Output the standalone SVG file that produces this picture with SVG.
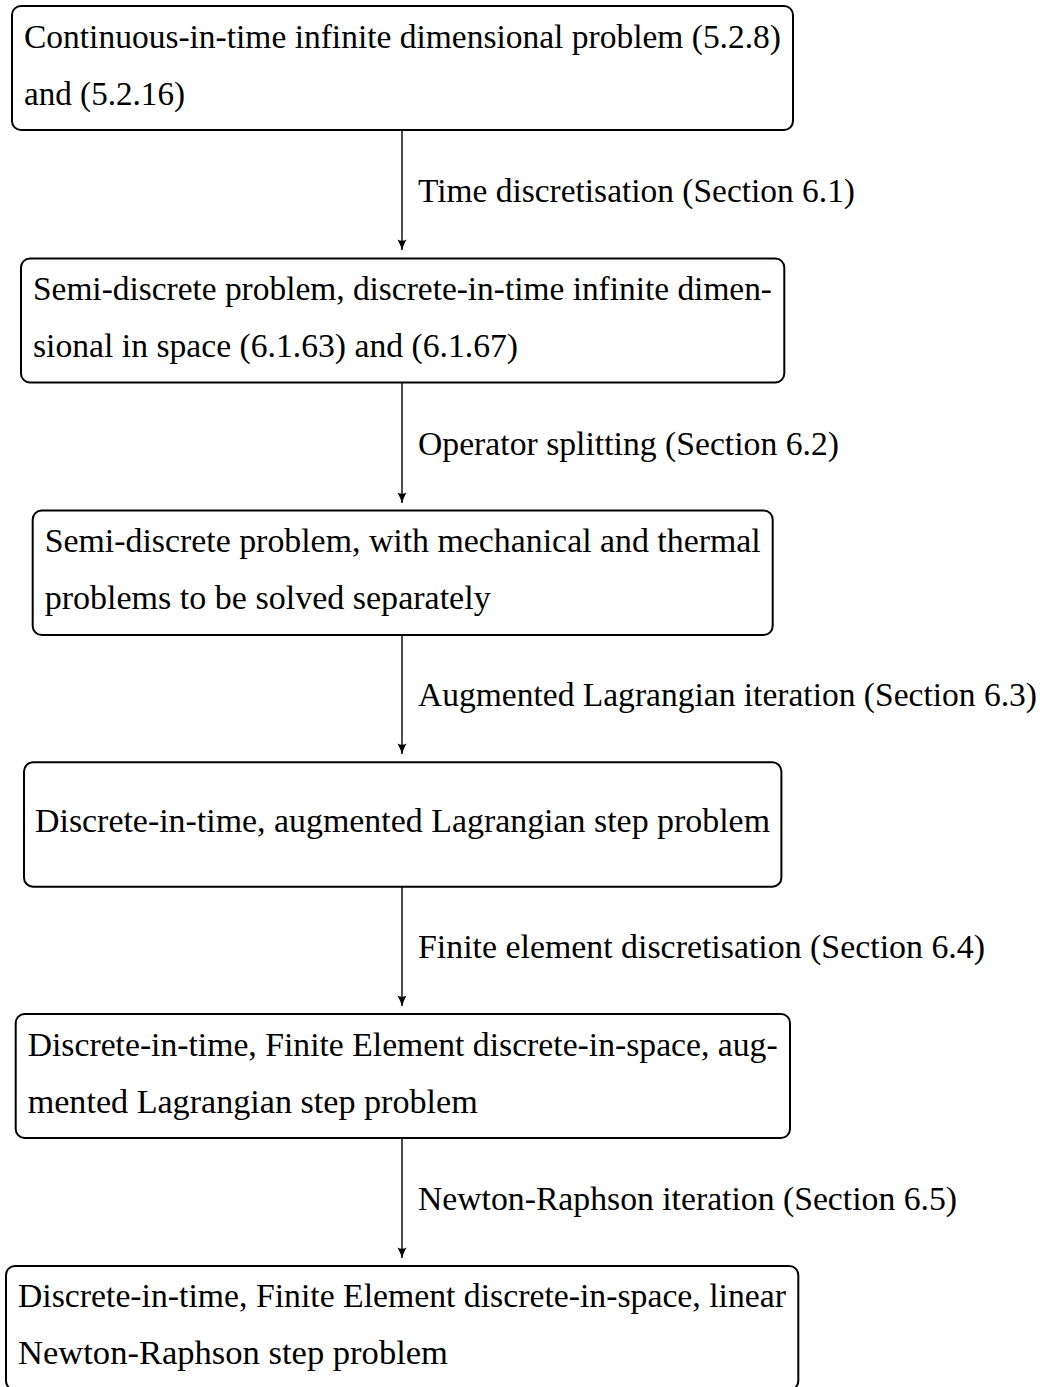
<svg xmlns="http://www.w3.org/2000/svg" width="1048" height="1387" viewBox="0 0 1048 1387">
<style>
.box{fill:#fff;stroke:#000;stroke-width:2}
.t{font-family:"Liberation Serif","Times New Roman",serif;font-size:33px;fill:#000}
.edge{stroke:#000;stroke-width:1.4;fill:none}
</style>
<defs>
<marker id="arr" viewBox="-12 -6 13 12" refX="0" refY="0" markerWidth="13" markerHeight="12" markerUnits="userSpaceOnUse" orient="auto">
<path d="M0,0 Q-5,-1.5 -10.5,-4.5 Q-8,0 -10.5,4.5 Q-5,1.5 0,0 Z" fill="#000"/>
</marker>
</defs>
<rect width="1048" height="1387" fill="#fff"/>
<g id="connectors">
<g id="e1"><line class="edge" x1="402" y1="130" x2="402" y2="250" marker-end="url(#arr)"/><text class="t" x="418" y="202" textLength="437" lengthAdjust="spacingAndGlyphs">Time discretisation (Section 6.1)</text></g>
<g id="e2"><line class="edge" x1="402" y1="383" x2="402" y2="503" marker-end="url(#arr)"/><text class="t" x="418" y="455" textLength="421" lengthAdjust="spacingAndGlyphs">Operator splitting (Section 6.2)</text></g>
<g id="e3"><line class="edge" x1="402" y1="635" x2="402" y2="754" marker-end="url(#arr)"/><text class="t" x="418" y="706" textLength="619" lengthAdjust="spacingAndGlyphs">Augmented Lagrangian iteration (Section 6.3)</text></g>
<g id="e4"><line class="edge" x1="402" y1="887" x2="402" y2="1006" marker-end="url(#arr)"/><text class="t" x="418" y="958" textLength="567" lengthAdjust="spacingAndGlyphs">Finite element discretisation (Section 6.4)</text></g>
<g id="e5"><line class="edge" x1="402" y1="1138" x2="402" y2="1258" marker-end="url(#arr)"/><text class="t" x="418" y="1210" textLength="539" lengthAdjust="spacingAndGlyphs">Newton-Raphson iteration (Section 6.5)</text></g>
</g>
<g id="n1"><rect class="box" x="12" y="6" width="781" height="124" rx="9"/>
<text class="t" x="24" y="48" textLength="757" lengthAdjust="spacingAndGlyphs">Continuous-in-time infinite dimensional problem (5.2.8)</text>
<text class="t" x="24" y="105" textLength="161" lengthAdjust="spacingAndGlyphs">and (5.2.16)</text></g>
<g id="n2"><rect class="box" x="21" y="258.5" width="763.3" height="124" rx="9"/>
<text class="t" x="33" y="300" textLength="739" lengthAdjust="spacingAndGlyphs">Semi-discrete problem, discrete-in-time infinite dimen-</text>
<text class="t" x="33" y="357" textLength="485" lengthAdjust="spacingAndGlyphs">sional in space (6.1.63) and (6.1.67)</text></g>
<g id="n3"><rect class="box" x="32.7" y="510.5" width="740" height="124.5" rx="9"/>
<text class="t" x="44.7" y="552" textLength="716" lengthAdjust="spacingAndGlyphs">Semi-discrete problem, with mechanical and thermal</text>
<text class="t" x="44.7" y="609" textLength="446" lengthAdjust="spacingAndGlyphs">problems to be solved separately</text></g>
<g id="n4"><rect class="box" x="24" y="762.3" width="757.4" height="124.4" rx="9"/>
<text class="t" x="35" y="832" textLength="735" lengthAdjust="spacingAndGlyphs">Discrete-in-time, augmented Lagrangian step problem</text></g>
<g id="n5"><rect class="box" x="15.7" y="1014" width="774.3" height="124" rx="9"/>
<text class="t" x="27.7" y="1056" textLength="750" lengthAdjust="spacingAndGlyphs">Discrete-in-time, Finite Element discrete-in-space, aug-</text>
<text class="t" x="27.7" y="1113" textLength="450" lengthAdjust="spacingAndGlyphs">mented Lagrangian step problem</text></g>
<g id="n6"><rect class="box" x="6" y="1266" width="792.3" height="124" rx="9"/>
<text class="t" x="18" y="1307" textLength="768" lengthAdjust="spacingAndGlyphs">Discrete-in-time, Finite Element discrete-in-space, linear</text>
<text class="t" x="18" y="1364" textLength="430" lengthAdjust="spacingAndGlyphs">Newton-Raphson step problem</text></g>
</svg>
